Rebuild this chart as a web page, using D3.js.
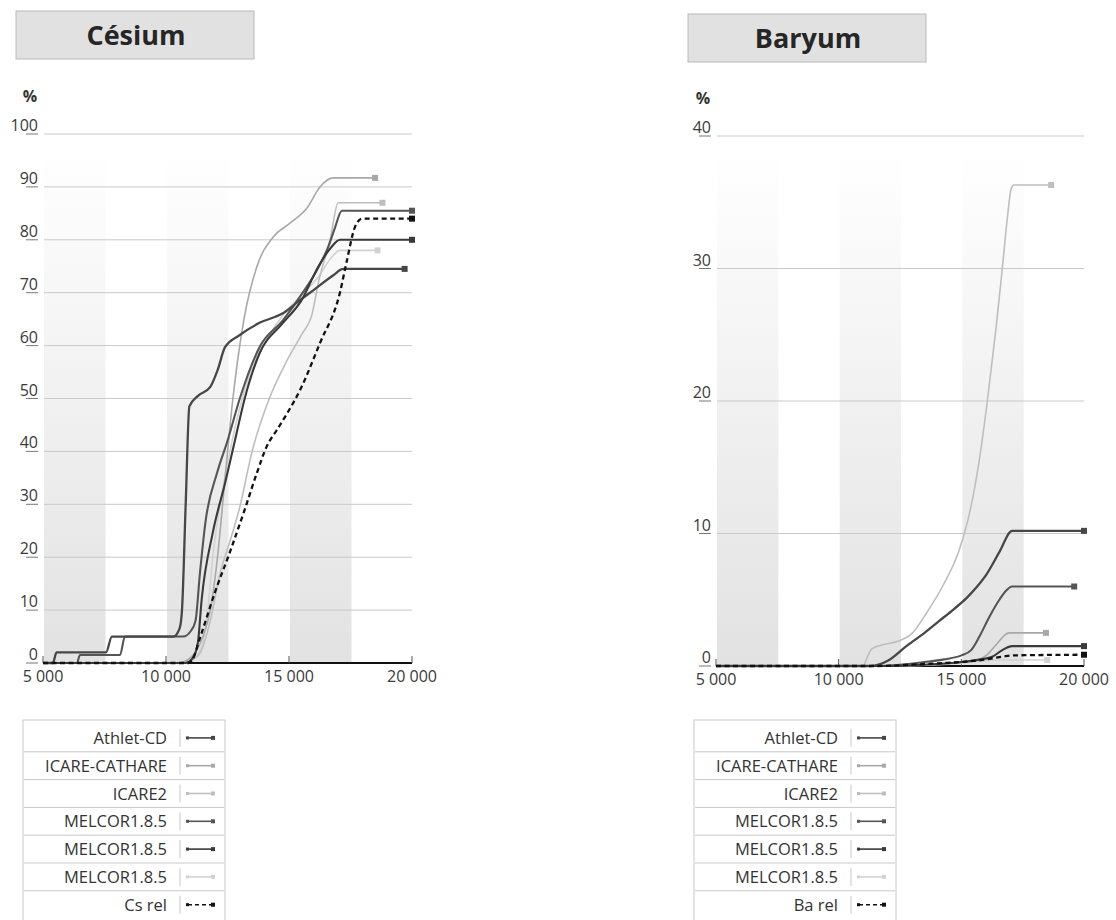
<!DOCTYPE html>
<html>
<head>
<meta charset="utf-8">
<script src="https://cdn.jsdelivr.net/npm/d3@7"></script>
<style>
  body { margin: 0; background: #fff; }
  svg text { font-family: "Open Sans", "Noto Sans", sans-serif; fill: #333; }
</style>
</head>
<body>
<div id="chart"></div>
<script>
// x ticks (time) shared by both panels
const xTicks = [5000, 10000, 15000, 20000]
const xTickLabels = ["5 000", "10 000", "15 000", "20 000"]
const bands = [[5000, 7500], [10000, 12500], [15000, 17500]]

const seriesNames = ["Athlet-CD", "ICARE-CATHARE", "ICARE2", "MELCOR1.8.5", "MELCOR1.8.5", "MELCOR1.8.5"]

// Césium (%)
const csTicks = [0, 10, 20, 30, 40, 50, 60, 70, 80, 90, 100]
const csAthlet = [[5000,0],[5400,0],[5550,2],[7560,2],[7800,5],[10300,5],[10550,6.5],[10650,10],[10800,30],[10950,48.5],[11300,50.5],[11800,52.2],[12100,55.4],[12400,59.7],[13000,62],[13800,64.3],[14750,66.1],[15450,68.6],[16000,70.5],[16800,73.3],[17200,74.5],[19700,74.5]]
const csIcareCath = [[5000,0],[10500,0],[11000,1],[11500,5],[11800,10],[12070,19],[12400,35],[12720,50],[13170,65],[13700,75],[14350,80.5],[15000,83],[15730,86],[16260,90],[16800,91.7],[18500,91.7]]
const csIcare2 = [[5000,0],[10500,0],[11000,0.5],[11400,2],[11800,8],[12200,17],[12600,23],[13000,29.5],[13500,40],[14200,50],[14900,57],[15500,62],[15940,66],[16200,72],[16670,80],[17000,87],[18800,87]]
const csMelcorA = [[5000,0],[6380,0],[6500,1.5],[8130,1.5],[8330,5],[10700,5],[11000,6],[11200,8],[11380,17],[11600,26.5],[12080,36],[12500,42],[13000,50],[13800,59.7],[14760,64.8],[15560,70],[16140,74.3],[16590,78.6],[16850,82],[17150,85.5],[20000,85.5]]
const csMelcorB = [[5000,0],[10800,0],[11100,1],[11300,4],[11450,12],[11900,24.6],[12400,34],[12800,42],[13200,50],[13800,58.5],[14700,64],[15500,68.5],[16200,75],[16700,78.5],[17070,80],[20000,80]]
const csMelcorC = [[5000,0],[10800,0],[11200,1],[11500,4],[11700,10],[11900,20],[12200,30],[12600,40],[13100,50],[13600,57],[14200,62],[14800,66],[15500,69.5],[16200,73],[16700,76.5],[17070,78],[18600,78]]
const csRel = [[5000,0],[10900,0],[11057,0.5],[11400,5],[12000,13.5],[12600,21],[13200,29],[13700,36],[14100,41],[14500,44],[14900,47],[15450,51.6],[16260,60.5],[17070,70],[17350,76],[17680,82.4],[17970,84],[20000,84]]

// Baryum (%)
const baTicks = [0, 10, 20, 30, 40]
const baAthlet = [[5000,0],[11300,0],[12000,0.4],[12760,1.5],[13500,2.5],[14100,3.4],[14700,4.3],[15200,5.1],[15600,5.9],[16020,6.9],[16550,8.6],[17070,10.2],[20000,10.2]]
const baIcareCath = [[5000,0],[12500,0],[13500,0.1],[14500,0.2],[15500,0.4],[16020,0.8],[16420,1.6],[16750,2.3],[16950,2.5],[18450,2.5]]
const baIcare2 = [[5000,0],[11000,0],[11150,0.6],[11350,1.3],[11800,1.6],[12480,1.9],[13010,2.5],[13580,4],[14230,6],[14920,8.8],[15330,11.5],[15730,15.5],[16060,20],[16420,25.6],[16670,30],[16870,33.7],[17030,36],[17150,36.3],[18660,36.3]]
const baMelcorA = [[5000,0],[11500,0],[12500,0.1],[13500,0.3],[14300,0.5],[15000,0.8],[15400,1.2],[15730,2.2],[16140,3.7],[16550,5],[16830,5.7],[17070,6],[19600,6]]
const baMelcorB = [[5000,0],[12000,0],[13500,0.1],[15000,0.3],[15800,0.5],[16260,0.7],[16670,1.2],[17070,1.5],[20000,1.5]]
const baMelcorC = [[5000,0],[12500,0],[14000,0.1],[15000,0.2],[15800,0.35],[16500,0.45],[18500,0.45]]
const baRel = [[5000,0],[11500,0],[13000,0.1],[14000,0.2],[15000,0.3],[15800,0.45],[16670,0.7],[17070,0.8],[20000,0.85]]

// line styles, same order as seriesNames, then the "rel" line
const styles = [
    {color: "#474747", width: 2.3},
    {color: "#a8a8a8", width: 1.6},
    {color: "#bebebe", width: 1.6},
    {color: "#555555", width: 2.1},
    {color: "#3a3a3a", width: 2.1},
    {color: "#d2d2d2", width: 1.6},
    {color: "#111", width: 2.3, dash: "5,3.5"}
]

const outerWidth = 1116
const outerHeight = 920

const svg = d3.select("#chart").append("svg")
    .attr("width", outerWidth)
    .attr("height", outerHeight)

const defs = svg.append("defs")
const grad = defs.append("linearGradient")
    .attr("id", "bandFill")
    .attr("x1", 0).attr("y1", 0).attr("x2", 0).attr("y2", 1)
grad.append("stop").attr("offset", "0%").attr("stop-color", "#ffffff")
grad.append("stop").attr("offset", "100%").attr("stop-color", "#e2e2e2")

const panels = [
    {title: "Césium", box: [16, 11, 238, 48], left: 43, right: 412, top: 134, bottom: 663,
     ymax: 100, ticks: csTicks, series: [csAthlet, csIcareCath, csIcare2, csMelcorA, csMelcorB, csMelcorC, csRel],
     relName: "Cs rel", legendX: 23},
    {title: "Baryum", box: [688, 14, 238, 48], left: 716, right: 1084, top: 136, bottom: 666,
     ymax: 40, ticks: baTicks, series: [baAthlet, baIcareCath, baIcare2, baMelcorA, baMelcorB, baMelcorC, baRel],
     relName: "Ba rel", legendX: 694}
]

panels.forEach(p => drawPanel(p))

function drawPanel(p) {

    // title box
    svg.append("rect")
        .attr("x", p.box[0]).attr("y", p.box[1])
        .attr("width", p.box[2]).attr("height", p.box[3])
        .attr("fill", "#e1e1e1")
        .attr("stroke", "#b9b9b9")
    svg.append("text")
        .attr("x", p.box[0] + p.box[2] / 2 + 1)
        .attr("y", p.box[1] + 34)
        .attr("text-anchor", "middle")
        .style("font-size", "27px")
        .style("font-weight", "bold")
        .style("fill", "#262626")
        .text(p.title)

    const xScale = d3.scaleLinear().domain([5000, 20000]).range([p.left, p.right])
    const yScale = d3.scaleLinear().domain([0, p.ymax]).range([p.bottom, p.top])

    // shaded bands
    svg.append("g").selectAll("rect")
        .data(bands)
        .join("rect")
        .attr("x", d => xScale(d[0]) + 1)
        .attr("width", d => xScale(d[1]) - xScale(d[0]))
        .attr("y", p.top + 16)
        .attr("height", p.bottom - p.top - 16)
        .attr("fill", "url(#bandFill)")

    // gridlines + tick labels
    const yAxis = svg.append("g")
    yAxis.selectAll("line.grid")
        .data(p.ticks.filter(t => t > 0))
        .join("line")
        .attr("class", "grid")
        .attr("x1", p.left + 1).attr("x2", p.right)
        .attr("y1", d => yScale(d)).attr("y2", d => yScale(d))
        .attr("stroke", "#c9c9c9")
        .attr("stroke-width", 1)
    yAxis.selectAll("line.under")
        .data(p.ticks)
        .join("line")
        .attr("class", "under")
        .attr("x1", p.left - 17).attr("x2", p.left - 5)
        .attr("y1", d => yScale(d)).attr("y2", d => yScale(d))
        .attr("stroke", "#777")
        .attr("stroke-width", 1)
    yAxis.selectAll("text")
        .data(p.ticks)
        .join("text")
        .attr("x", p.left - 5)
        .attr("y", d => yScale(d) - 3)
        .attr("text-anchor", "end")
        .style("font-size", "16px")
        .style("fill", "#3a3a3a")
        .text(d => d)

    svg.append("text")
        .attr("x", p.left - 13)
        .attr("y", p.top - 32)
        .attr("text-anchor", "middle")
        .style("font-size", "16px")
        .style("font-weight", "bold")
        .text("%")

    // x axis
    svg.append("line")
        .attr("x1", p.left).attr("x2", p.right)
        .attr("y1", p.bottom).attr("y2", p.bottom)
        .attr("stroke", "#111").attr("stroke-width", 2)
    svg.append("g").selectAll("line")
        .data(xTicks)
        .join("line")
        .attr("x1", d => xScale(d)).attr("x2", d => xScale(d))
        .attr("y1", p.bottom).attr("y2", p.bottom - 7)
        .attr("stroke", "#555").attr("stroke-width", 1)
    svg.append("g").selectAll("text")
        .data(xTicks)
        .join("text")
        .attr("x", d => xScale(d))
        .attr("y", p.bottom + 19)
        .attr("text-anchor", "middle")
        .style("font-size", "16px")
        .style("fill", "#3a3a3a")
        .text((d, i) => xTickLabels[i])

    // curves
    const line = d3.line()
        .x(d => xScale(d[0]))
        .y(d => yScale(d[1]))
        .curve(d3.curveMonotoneX)

    const order = [5, 2, 1, 3, 0, 4, 6]
    const g = svg.append("g")
    order.forEach(i => {
        const st = styles[i]
        const data = p.series[i]
        g.append("path")
            .datum(data)
            .attr("d", line)
            .attr("fill", "none")
            .attr("stroke", st.color)
            .attr("stroke-width", st.width)
            .attr("stroke-dasharray", st.dash || null)
            .attr("stroke-linejoin", "round")
        const last = data[data.length - 1]
        g.append("rect")
            .attr("x", xScale(last[0]) - 3)
            .attr("y", yScale(last[1]) - 3)
            .attr("width", 6).attr("height", 6)
            .attr("fill", st.color)
    })

    // legend
    const names = seriesNames.concat([p.relName])
    const lx = p.legendX
    const lw = 202
    const rowH = 27.8
    const top = 720
    const leg = svg.append("g")
    leg.append("rect")
        .attr("x", lx).attr("y", top)
        .attr("width", lw).attr("height", 4 + rowH * names.length + 4)
        .attr("fill", "#fff")
        .attr("stroke", "#c8c8c8")
    names.forEach((name, i) => {
        const y0 = top + 4 + i * rowH
        const cy = y0 + rowH / 2
        if (i > 0) {
            leg.append("line")
                .attr("x1", lx + 1).attr("x2", lx + lw - 1)
                .attr("y1", y0).attr("y2", y0)
                .attr("stroke", "#c8c8c8")
        }
        leg.append("text")
            .attr("x", lx + 144)
            .attr("y", cy + 6)
            .attr("text-anchor", "end")
            .style("font-size", "16.5px")
            .style("fill", "#333")
            .text(name)
        leg.append("line")
            .attr("x1", lx + 157).attr("x2", lx + 157)
            .attr("y1", cy - 9).attr("y2", cy + 9)
            .attr("stroke", "#c8c8c8")
        const st = styles[i]
        leg.append("line")
            .attr("x1", lx + 165).attr("x2", lx + 190)
            .attr("y1", cy).attr("y2", cy)
            .attr("stroke", st.color)
            .attr("stroke-width", 1.6)
            .attr("stroke-dasharray", st.dash ? "4,3" : null)
        leg.append("rect")
            .attr("x", lx + 163).attr("y", cy - 1.5)
            .attr("width", 3).attr("height", 3)
            .attr("fill", st.color)
        leg.append("rect")
            .attr("x", lx + 188).attr("y", cy - 2)
            .attr("width", 4).attr("height", 4)
            .attr("fill", st.color)
    })
}
</script>
</body>
</html>
